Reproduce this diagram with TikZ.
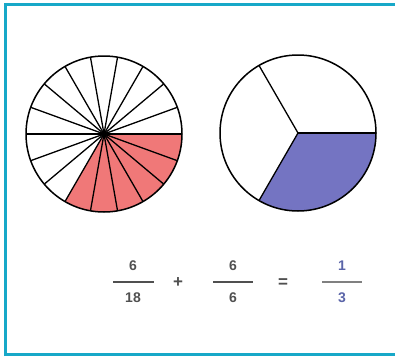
\documentclass[tikz,border=0pt]{standalone}
\usepackage{fontspec}
\setsansfont{Liberation Sans}
\usepackage{tikz}
\usetikzlibrary{positioning,calc}
\definecolor{frame}{HTML}{17A8C8}
\definecolor{redpart}{HTML}{F07878}
\definecolor{bluepart}{HTML}{7474C2}
\definecolor{numtext}{HTML}{505050}
\definecolor{bluetext}{HTML}{5A64A8}
\tikzset{
  num/.style={font=\sffamily\bfseries\fontsize{14}{14}\selectfont,text=numtext,inner sep=0pt},
  sign/.style={font=\sffamily\bfseries\fontsize{17}{17}\selectfont,text=numtext,inner sep=0pt},
  bar/.style={line width=1.6pt,numtext}
}
\begin{document}
\begin{tikzpicture}[x=1pt,y=-1pt]
        \useasboundingbox (0,0) rectangle (395,356);
        \draw[frame,line width=3pt] (5.5,356) -- (5.5,4.5) -- (395,4.5);
        \draw[frame,line width=3pt] (4,354.5) -- (395,354.5);
        % eighteenths
        \coordinate (c1) at (104,134);
        \fill[redpart] (c1) -- ++(0:78) arc[start angle=0,end angle=120,radius=78] -- cycle;
        \foreach \a in {0,20,...,340}{\draw[line width=1.3pt] (c1) -- ++(\a:78);}
        \draw[line width=1.5pt] (c1) circle[radius=78];
        \fill (c1) circle[radius=3];
        % thirds
        \coordinate (c2) at (298,133);
        \fill[bluepart] (c2) -- ++(0:78) arc[start angle=0,end angle=120,radius=78] -- cycle;
        \foreach \a in {0,120,240}{\draw[line width=1.3pt] (c2) -- ++(\a:78);}
        \draw[line width=1.5pt] (c2) circle[radius=78];
        % fractions
        \node[num] (n1) at (133,266) {6};
        \node[num] (d1) at (133,298) {18};
        \draw[bar] (113,282) -- (154,282);
        \node[sign] (plus) at (178,283) {+};
        \node[num] (n2) at (233,266) {6};
        \node[num] (d2) at (233,298) {6};
        \draw[bar] (213,282) -- (253,282);
        \node[sign] (eq) at (283,283) {=};
        \node[num,text=bluetext] (n3) at (342,266) {1};
        \node[num,text=bluetext] (d3) at (342,298) {3};
        \draw[bar,gray] (322,282) -- (362,282);
\end{tikzpicture}
\end{document}
